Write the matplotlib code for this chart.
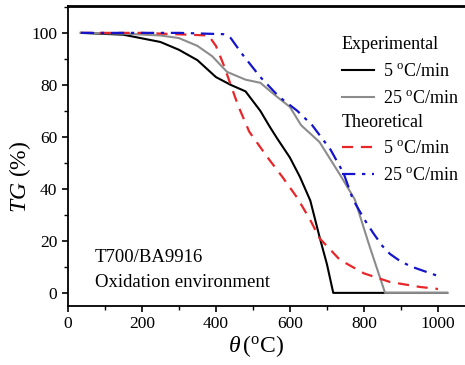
import matplotlib
matplotlib.use("Agg")
from matplotlib import pyplot as plt
from matplotlib.ticker import MultipleLocator

plt.rcParams["font.family"] = ["Liberation Serif", "DejaVu Serif"]
plt.rcParams["mathtext.fontset"] = "custom"
plt.rcParams["mathtext.rm"] = "Liberation Serif"
plt.rcParams["mathtext.it"] = "Liberation Serif:italic"

# experimental, 5 C/min
exp5_t = [35, 150, 250, 300, 350, 400, 440, 480, 520, 545, 565, 600, 627, 655, 680, 700, 717, 1025]
exp5_tg = [100, 99.3, 96.5, 93.5, 89.5, 83, 80, 77.5, 70, 64, 59.5, 52, 44.6, 35.5, 21.5, 11, 0, 0]
# experimental, 25 C/min
exp25_t = [35, 150, 250, 300, 350, 390, 430, 480, 520, 560, 600, 630, 680, 735, 775, 815, 857, 1025]
exp25_tg = [100, 99.7, 99, 98, 95, 91, 85, 82, 80.8, 76, 71.5, 64.5, 58, 45.5, 36, 18, 0, 0]
# theoretical, 5 C/min
th5_t = [35, 200, 380, 400, 420, 440, 460, 490, 540, 580, 620, 655, 680, 735, 800, 870, 950, 1000]
th5_tg = [100, 100, 99, 95, 88, 80, 72, 62, 52, 44.5, 36.5, 28, 21, 12.7, 7.5, 4.2, 2.3, 1.5]
# theoretical, 25 C/min
th25_t = [35, 300, 420, 440, 470, 520, 570, 620, 660, 710, 745, 770, 800, 825, 850, 870, 900, 930, 1000]
th25_tg = [100, 100, 99.5, 98, 92, 83, 75.5, 70, 64.5, 55, 46, 36, 28.5, 23, 18, 15, 12, 10, 6.5]

rate_labels = ["5 $^{\\rm o}$C/min", "25 $^{\\rm o}$C/min"]

fig = plt.figure(figsize=(4.65, 3.65), dpi=100)
ax = fig.add_axes([0.146, 0.162, 0.854, 0.822])

l1, = ax.plot(exp5_t, exp5_tg, color="black", lw=1.5)
l2, = ax.plot(exp25_t, exp25_tg, color="#8c8c8c", lw=1.5)
l3, = ax.plot(th5_t, th5_tg, color="#e8262a", lw=1.6, dashes=(5, 3.5))
l4, = ax.plot(th25_t, th25_tg, color="#1414cc", lw=1.6, dashes=(6, 3, 1.5, 3))

ax.set_xlim(0, 1073)
ax.set_ylim(-5, 110.4)
ax.xaxis.set_major_locator(MultipleLocator(200))
ax.xaxis.set_minor_locator(MultipleLocator(100))
ax.yaxis.set_major_locator(MultipleLocator(20))
ax.yaxis.set_minor_locator(MultipleLocator(10))
ax.tick_params(which="major", direction="out", length=4, width=1.2, labelsize=12.5)
ax.tick_params(which="minor", direction="out", length=3, width=1.0)
ax.spines["right"].set_visible(False)
ax.spines["top"].set_linewidth(2.0)
ax.spines["left"].set_linewidth(1.3)
ax.spines["bottom"].set_linewidth(1.3)

ax.set_xlabel("$\\theta\\,$($^{\\rm o}$C)", fontsize=17)
ax.set_ylabel("$TG$ (%)", fontsize=17)
ax.xaxis.set_label_coords(0.474, -0.09)
ax.yaxis.set_label_coords(-0.088, 0.43)

ax.text(73, 13.5, "T700/BA9916", fontsize=13.5, va="center")
ax.text(73, 3.8, "Oxidation environment", fontsize=13.5, va="center")

leg_kw = dict(loc="upper left", frameon=False, fontsize=13, title_fontsize=13,
              handlelength=1.8, handletextpad=0.5, labelspacing=0.55,
              borderpad=0.2, borderaxespad=0, alignment="left")
leg1 = ax.legend([l1, l2], rate_labels, title="Experimental",
                 bbox_to_anchor=(0.68, 0.91), **leg_kw)
ax.add_artist(leg1)
ax.legend([l3, l4], rate_labels, title="Theoretical",
          bbox_to_anchor=(0.68, 0.653), **leg_kw)

fig.savefig("out.png", dpi=100)
